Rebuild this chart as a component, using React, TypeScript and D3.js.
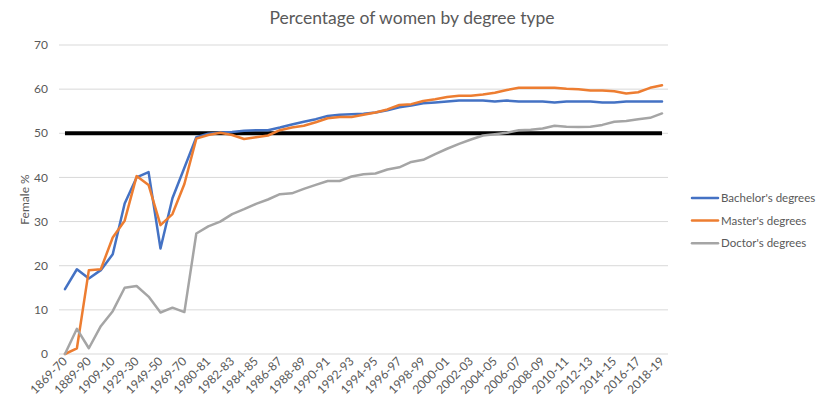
import React from "react";
import * as d3 from "d3";

const categories: string[] = [
  "1869-70", "1879-80", "1889-90", "1899-1900", "1909-10", "1919-20", "1929-30", "1939-40",
  "1949-50", "1959-60", "1969-70", "1979-80", "1980-81", "1981-82", "1982-83", "1983-84",
  "1984-85", "1985-86", "1986-87", "1987-88", "1988-89", "1989-90", "1990-91", "1991-92",
  "1992-93", "1993-94", "1994-95", "1995-96", "1996-97", "1997-98", "1998-99", "1999-2000",
  "2000-01", "2001-02", "2002-03", "2003-04", "2004-05", "2005-06", "2006-07", "2007-08",
  "2008-09", "2009-10", "2010-11", "2011-12", "2012-13", "2013-14", "2014-15", "2015-16",
  "2016-17", "2017-18", "2018-19",
];

const bachelors: number[] = [
  14.7, 19.2, 17.1, 19.0, 22.6, 34.1, 40.0, 41.2, 23.9, 35.3, 42.2, 49.1, 49.9, 50.2, 50.3, 50.6,
  50.7, 50.7, 51.3, 52.0, 52.6, 53.2, 53.9, 54.2, 54.3, 54.4, 54.7, 55.2, 55.9, 56.3, 56.8, 57.0,
  57.2, 57.4, 57.4, 57.4, 57.2, 57.4, 57.2, 57.2, 57.2, 57.0, 57.2, 57.2, 57.2, 57.0, 57.0, 57.2,
  57.2, 57.2, 57.2,
];

const masters: number[] = [
  0.0, 1.3, 19.0, 19.2, 26.4, 30.2, 40.3, 38.3, 29.2, 31.7, 38.5, 48.8, 49.6, 50.1, 49.6, 48.7,
  49.1, 49.5, 50.7, 51.3, 51.7, 52.5, 53.4, 53.7, 53.7, 54.2, 54.7, 55.4, 56.4, 56.6, 57.3, 57.7,
  58.2, 58.5, 58.5, 58.8, 59.2, 59.8, 60.3, 60.3, 60.3, 60.3, 60.1, 60.0, 59.7, 59.7, 59.5, 59.0,
  59.3, 60.3, 60.9,
];

const doctors: number[] = [
  0.0, 5.7, 1.3, 6.3, 9.7, 15.0, 15.4, 13.0, 9.4, 10.5, 9.5, 27.3, 28.9, 30.0, 31.7, 32.8,
  34.0, 35.0, 36.2, 36.4, 37.4, 38.3, 39.2, 39.2, 40.2, 40.7, 40.9, 41.8, 42.3, 43.5, 44.0, 45.3,
  46.5, 47.6, 48.6, 49.5, 49.8, 50.1, 50.7, 50.8, 51.1, 51.7, 51.5, 51.4, 51.5, 51.9, 52.6, 52.8,
  53.2, 53.5, 54.5,
];

const parity: number[] = categories.map(() => 50);

const yTicks: number[] = [0, 10, 20, 30, 40, 50, 60, 70];

const seriesNames: string[] = ["Bachelor's degrees", "Master's degrees", "Doctor's degrees"];
const seriesColors: string[] = ["#4472C4", "#ED7D31", "#A5A5A5"];

const W = 825;
const H = 411;
const FONT = "Lato, 'Open Sans', sans-serif";
const TEXT = "#595959";

export default function App() {
  const x = d3.scaleBand<string>().domain(categories).range([59, 668]);
  const y = d3.scaleLinear().domain([0, 70]).range([354, 45]);
  const cx = (c: string) => (x(c) as number) + x.bandwidth() / 2;

  const line = d3
    .line<number>()
    .x((_, i) => cx(categories[i]))
    .y((d) => y(d));

  const allSeries = [bachelors, masters, doctors];

  return (
    <svg
      width={W}
      height={H}
      style={{ position: "absolute", left: 0, top: 0, background: "#fff" }}
      fontFamily={FONT}
    >
      <rect width={W} height={H} fill="#fff" />
      <text x={412} y={24} textAnchor="middle" fontSize={17.5} fill={TEXT}>
        Percentage of women by degree type
      </text>

      {yTicks.map((t) => (
        <g key={t}>
          <line x1={59} x2={668} y1={y(t)} y2={y(t)} stroke="#D9D9D9" strokeWidth={1} />
          <text x={48} y={y(t)} dy="0.35em" textAnchor="end" fontSize={12} fill={TEXT}>
            {t}
          </text>
        </g>
      ))}

      <text
        transform={`translate(29, ${y(35)}) rotate(-90)`}
        textAnchor="middle"
        fontSize={12}
        fill={TEXT}
      >
        Female %
      </text>

      {categories.map((c, i) =>
        i % 2 === 0 ? (
          <text
            key={c}
            transform={`translate(${cx(c) + 3}, ${362}) rotate(-45)`}
            textAnchor="end"
            fontSize={12}
            fill={TEXT}
          >
            {c}
          </text>
        ) : null
      )}

      <path d={line(parity) ?? ""} fill="none" stroke="#000" strokeWidth={4} />

      {allSeries.map((s, k) => (
        <path
          key={k}
          d={line(s) ?? ""}
          fill="none"
          stroke={seriesColors[k]}
          strokeWidth={2.5}
          strokeLinejoin="round"
          strokeLinecap="round"
        />
      ))}

      {seriesNames.map((n, k) => (
        <g key={n} transform={`translate(692, ${198 + k * 22.6})`}>
          <line x1={0} x2={26} y1={0} y2={0} stroke={seriesColors[k]} strokeWidth={2.5} strokeLinecap="round" />
          <text x={29} y={0} dy="0.35em" fontSize={11.5} fill={TEXT}>
            {n}
          </text>
        </g>
      ))}
    </svg>
  );
}
